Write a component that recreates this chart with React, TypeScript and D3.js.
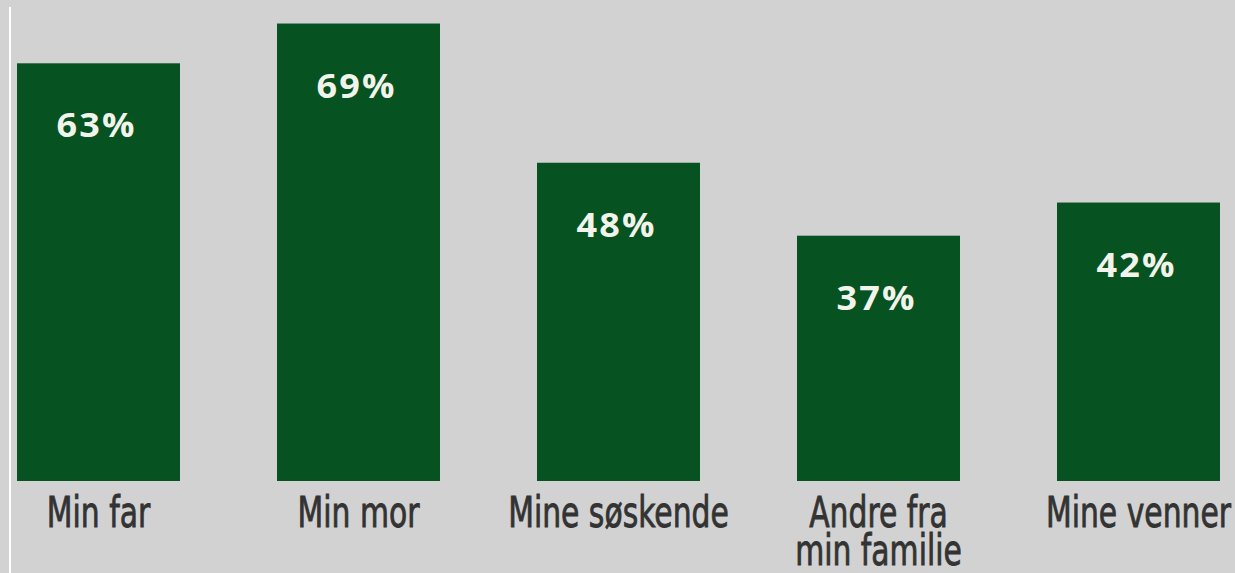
import React from "react";
import * as d3 from "d3";

const categories: string[][] = [["Min far"], ["Min mor"], ["Mine søskende"], ["Andre fra", "min familie"], ["Mine venner"]];
const values: number[] = [63, 69, 48, 37, 42];
const valueLabels: string[] = ["63%", "69%", "48%", "37%", "42%"];

const W = 1235;
const H = 573;

export default function App() {
  const bw = 163;
  const step = 260;
  const n = values.length;
  const pad = (step - bw) / step;
  const left = 17;
  const right = left + step * (n - 1) + bw;
  const x = d3
    .scaleBand<number>()
    .domain(values.map((_, i) => i))
    .range([left, right])
    .paddingInner(pad)
    .paddingOuter(0);
  const y = d3.scaleLinear().domain([0, 100]).range([481, 481 - 663]);

  return (
    <svg
      width={W}
      height={H}
      style={{ position: "absolute", left: 0, top: 0, display: "block" }}
    >
      <rect x={0} y={0} width={W} height={H} fill="#d2d2d2" />
      <rect x={9} y={7} width={2} height={H - 7} fill="#ffffff" />
      {values.map((v, i) => {
        const bx = x(i) as number;
        const w = x.bandwidth();
        const top = y(v);
        const cx = bx + w / 2;
        return (
          <g key={i}>
            <rect x={bx} y={top} width={w} height={y(0) - top} fill="#065220" />
            <g transform={`translate(${cx - 2},${top + 74}) scale(1.06,1)`}>
              <text
                x={0}
                y={0}
                textAnchor="middle"
                fill="#f2f4ec"
                fontFamily="'Open Sans', Roboto, sans-serif"
                fontWeight={700}
                fontSize={34}
                letterSpacing={2}
              >
                {valueLabels[i]}
              </text>
            </g>
            {categories[i].map((line, j) => (
              <g key={j} transform={`translate(${cx},${527 + j * 38}) scale(0.71,1)`}>
                <text
                  x={0}
                  y={0}
                  textAnchor="middle"
                  fill="#333333"
                  stroke="#333333"
                  strokeWidth={0.9}
                  fontFamily="'DejaVu Sans', sans-serif"
                  fontSize={42}
                >
                  {line}
                </text>
              </g>
            ))}
          </g>
        );
      })}
    </svg>
  );
}
